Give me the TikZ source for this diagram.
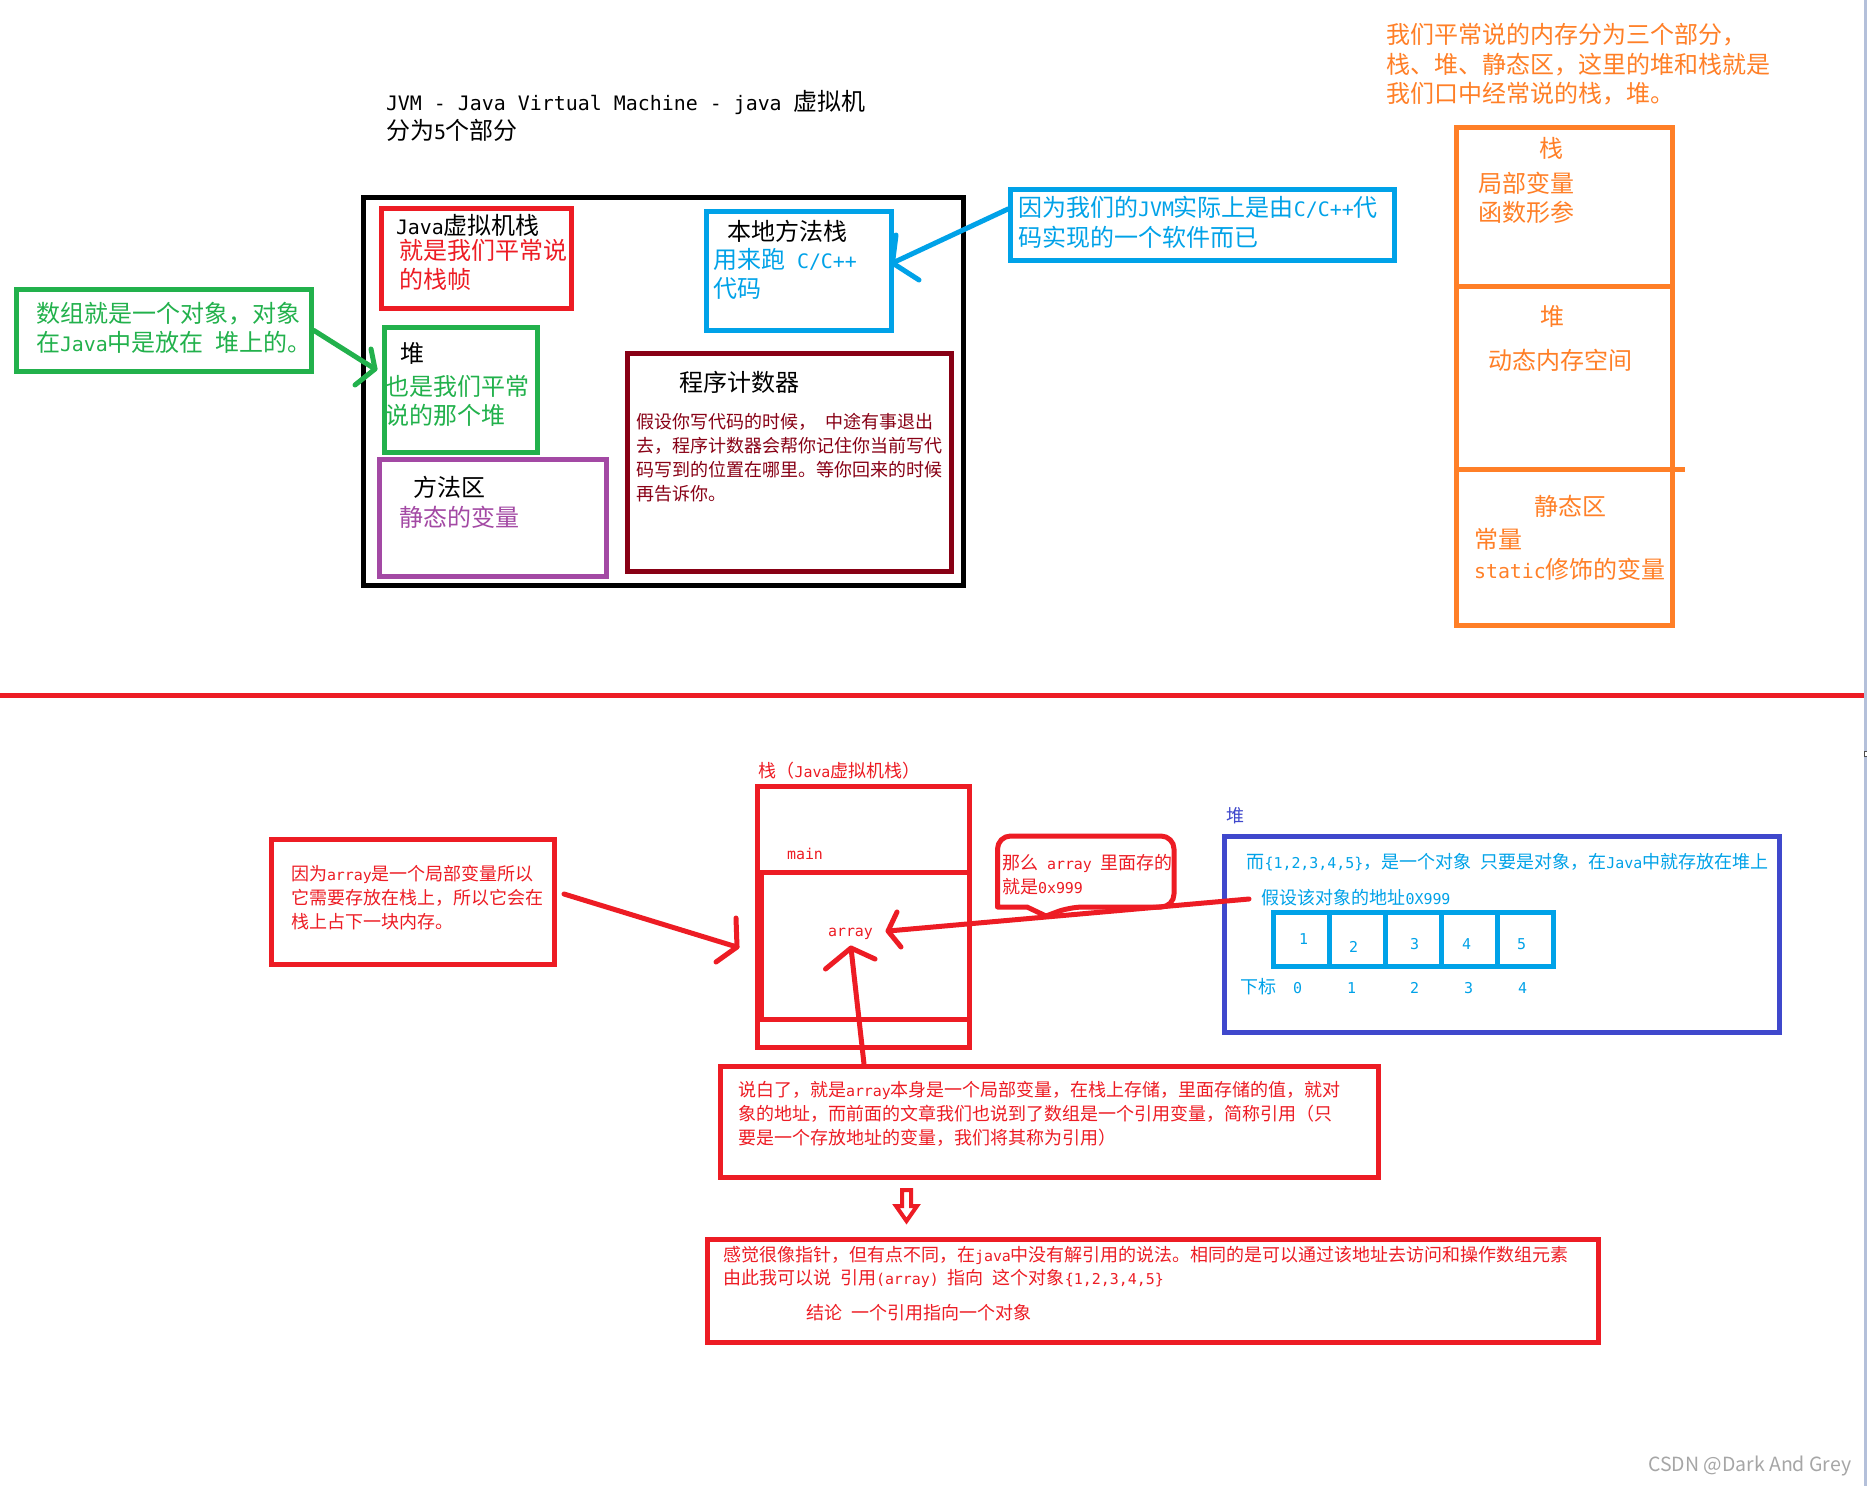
\documentclass[tikz,border=0pt]{standalone}
\usepackage{fontspec}
\setmainfont{Noto Sans CJK SC}
\newfontfamily\latfont{DejaVu Sans Mono}[Scale=0.83]
\newcommand\La[1]{{\latfont #1}}
\newcommand\Gap{\hspace{0.5em}}
\definecolor{cred}{HTML}{ED1C24}
\definecolor{cgreen}{HTML}{22B14C}
\definecolor{cblue}{HTML}{00A2E8}
\definecolor{cpurple}{HTML}{A349A4}
\definecolor{cdark}{HTML}{880015}
\definecolor{corange}{HTML}{FF7F27}
\definecolor{cindigo}{HTML}{3F48CC}
\definecolor{cstrip}{HTML}{B4C0DA}
\tikzset{
  boxnode/.style={draw=#1,line width=5pt,inner sep=0pt,fill=none},
  txtnode/.style={text=#1,inner sep=0pt,outer sep=0pt,anchor=north west,align=left},
  stroke/.style={draw=#1,line width=5pt,line cap=round,line join=round},
}
% name x1 y1 x2 y2 colour
\newcommand\boxn[6]{%
  \pgfmathsetmacro\bw{#4-#2}\pgfmathsetmacro\bh{#5-#3}%
  \pgfmathsetmacro\bx{(#2+#4)/2}\pgfmathsetmacro\by{(#3+#5)/2}%
  \node[boxnode=#6,minimum width=\bw pt,minimum height=\bh pt] (#1) at (\bx,\by) {};}
% name x ycentre-of-first-line size leading colour text
\newcommand\lbl[7]{%
  \pgfmathsetmacro\ty{#3-0.7*#5+0.38*#4}%
  \node[txtnode=#6,font=\fontsize{#4}{#5}\selectfont] (#1) at (#2,\ty) {\strut #7};}
\begin{document}
\begin{tikzpicture}[x=1pt,y=-1pt]
\useasboundingbox (0,0) rectangle (1867,1486);
\fill[white] (0,0) rectangle (1867,1486);
\fill[cstrip] (1864,0) rectangle (1867,1486);
\draw[black!70,fill=white,line width=1pt] (1864.5,751.5) rectangle (1868,756);
% ---------- upper part
\lbl{title}{386}{101}{24}{29}{black}{\La{JVM - Java Virtual Machine - java }虚拟机\\分为\La{5}个部分}
\boxn{jvm}{363.5}{197.5}{963}{585}{black}
\boxn{jstack}{381.5}{208.5}{571.5}{308.5}{cred}
\boxn{native}{706.5}{211.5}{891.5}{330.5}{cblue}
\boxn{heap}{384.5}{327.5}{537.5}{452.5}{cgreen}
\boxn{method}{379.5}{459.5}{606.5}{576.5}{cpurple}
\boxn{pc}{627.5}{353.5}{951.5}{571.5}{cdark}
\boxn{gnote}{16.5}{289.5}{311.5}{371.5}{cgreen}
\boxn{bnote}{1010.5}{189.5}{1394.5}{260.5}{cblue}
\lbl{t1}{396}{225.5}{24}{29}{black}{\La{Java}虚拟机栈}
\lbl{t2}{399}{250.5}{24}{29}{cred}{就是我们平常说\\的栈帧}
\lbl{t3}{727}{231.5}{24}{29}{black}{本地方法栈}
\lbl{t4}{713}{259.5}{24}{29}{cblue}{用来跑\Gap\La{C/C++}\\代码}
\lbl{t5}{400}{353}{24}{29}{black}{堆}
\lbl{t6}{385}{386}{24}{29}{cgreen}{也是我们平常\\说的那个堆}
\lbl{t7}{413}{487}{24}{29}{black}{方法区}
\lbl{t8}{399}{517}{24}{29}{cpurple}{静态的变量}
\lbl{t9}{679}{382}{24}{29}{black}{程序计数器}
\lbl{t10}{636}{422}{18}{24}{cdark}{假设你写代码的时候，\Gap 中途有事退出\\去，程序计数器会帮你记住你当前写代\\码写到的位置在哪里。等你回来的时候\\再告诉你。}
\lbl{t11}{36}{313}{24}{29}{cgreen}{数组就是一个对象，对象\\在\La{Java}中是放在\Gap 堆上的。}
\lbl{t12}{1018}{207.5}{24}{29}{cblue}{因为我们的\La{JVM}实际上是由\La{C/C++}代\\码实现的一个软件而已}
% connectors, upper part
\coordinate (gtip) at (375,369);
\draw[stroke=cgreen] (gnote.east) -- (gtip);
\draw[stroke=cgreen] (371,349) -- (gtip) -- (355,385);
\coordinate (btip) at (892.5,263);
\draw[stroke=cblue] ([yshift=16pt]bnote.west) -- (btip);
\draw[stroke=cblue] (896,235) -- (btip) -- (919,280);
% orange stack
\lbl{o0}{1386}{34}{24}{29}{corange}{我们平常说的内存分为三个部分，\\栈、堆、静态区，这里的堆和栈就是\\我们口中经常说的栈，堆。}
\boxn{mem}{1456.5}{127.5}{1672}{625.5}{corange}
\draw[stroke=corange,line cap=butt] (mem.west |- 0,286) -- (mem.east |- 0,286);
\draw[stroke=corange,line cap=butt] (mem.west |- 0,469) -- (1685,469);
\lbl{o1}{1539}{148}{24}{29}{corange}{栈}
\lbl{o2}{1478}{183}{24}{29}{corange}{局部变量\\函数形参}
\lbl{o3}{1540}{316}{24}{29}{corange}{堆}
\lbl{o4}{1488.5}{360}{24}{29}{corange}{动态内存空间}
\lbl{o5}{1534}{506}{24}{29}{corange}{静态区}
\lbl{o6}{1474}{539}{24}{29}{corange}{常量\\\La{static}修饰的变量}
% separator
\draw[cred,line width=5pt] (0,695.3) -- (1864,695.3);
% ---------- lower part
\boxn{why}{271.5}{839.5}{554.5}{964.5}{cred}
\lbl{w1}{291}{874}{18}{24}{cred}{因为\La{array}是一个局部变量所以\\它需要存放在栈上，所以它会在\\栈上占下一块内存。}
\lbl{s0}{758.5}{771}{18}{24}{cred}{栈（\La{Java}虚拟机栈）}
\boxn{stack}{757.5}{786.5}{969.5}{1047.5}{cred}
\draw[stroke=cred,line cap=butt] (stack.west |- 0,872) -- (stack.east |- 0,872);
\draw[stroke=cred,line cap=butt] (stack.west |- 0,1019) -- (stack.east |- 0,1019);
\draw[stroke=cred,line cap=butt] (761,872) -- (761,1019);
\lbl{s1}{787}{853}{18}{24}{cred}{\La{main}}
\lbl{s2}{828}{930}{18}{24}{cred}{\La{array}}
% bubble
\draw[stroke=cred] (1046,916) -- (1027,907) -- (997.5,907) [rounded corners=13pt] -- (997.5,836) -- (1174,836) -- (1174,907) -- (1070,907) [sharp corners] -- cycle;
\lbl{b1}{1002}{863}{18}{24}{cred}{那么\Gap\La{array}\Gap 里面存的\\就是\La{0x999}}
% heap box
\lbl{h0}{1226}{816}{18}{24}{cindigo}{堆}
\boxn{hbox}{1224}{836}{1779.5}{1032.5}{cindigo}
\lbl{h1}{1246.5}{862}{18}{24}{cblue}{而\La{\{1,2,3,4,5\}}，是一个对象\Gap 只要是对象，在\La{Java}中就存放在堆上}
\lbl{h2}{1261.5}{898}{18}{24}{cblue}{假设该对象的地址\La{0X999}}
\boxn{arr}{1273.5}{912.5}{1553.5}{966.5}{cblue}
\foreach \dx in {1329,1385,1441.5,1497}{\draw[cblue,line width=5pt] (\dx,912.5) -- (\dx,966.5);}
\lbl{d1}{1299}{938}{18}{24}{cblue}{\La{1}}
\lbl{d2}{1349}{946}{18}{24}{cblue}{\La{2}}
\lbl{d3}{1410}{943}{18}{24}{cblue}{\La{3}}
\lbl{d4}{1462}{943}{18}{24}{cblue}{\La{4}}
\lbl{d5}{1517}{943}{18}{24}{cblue}{\La{5}}
\lbl{i0}{1240}{986.5}{18}{24}{cblue}{下标}
\lbl{i1}{1293}{986.5}{18}{24}{cblue}{\La{0}}
\lbl{i2}{1347}{986.5}{18}{24}{cblue}{\La{1}}
\lbl{i3}{1410}{986.5}{18}{24}{cblue}{\La{2}}
\lbl{i4}{1464}{986.5}{18}{24}{cblue}{\La{3}}
\lbl{i5}{1518}{986.5}{18}{24}{cblue}{\La{4}}
% explanatory boxes
\boxn{ex1}{720.5}{1066.5}{1378.5}{1177.5}{cred}
\lbl{e1}{738}{1090}{18}{24}{cred}{说白了，就是\La{array}本身是一个局部变量，在栈上存储，里面存储的值，就对\\象的地址，而前面的文章我们也说到了数组是一个引用变量，简称引用（只\\要是一个存放地址的变量，我们将其称为引用）}
\draw[cred,line width=4pt,line join=miter] (902,1190) -- (911,1190) -- (911,1206) -- (917,1206) -- (906.5,1221) -- (896,1206) -- (902,1206) -- cycle;
\boxn{ex2}{707.5}{1239.5}{1598.5}{1342.5}{cred}
\lbl{e2}{723}{1254.5}{18}{23.5}{cred}{感觉很像指针，但有点不同，在\La{java}中没有解引用的说法。相同的是可以通过该地址去访问和操作数组元素\\由此我可以说\Gap 引用\La{(array)}\Gap 指向\Gap 这个对象\La{\{1,2,3,4,5\}}}
\lbl{e3}{806}{1313}{18}{24}{cred}{结论\Gap 一个引用指向一个对象}
% connectors, lower part
\coordinate (wstart) at (564,894);
\coordinate (wtip) at (737,947);
\draw[stroke=cred] (wstart) -- (wtip);
\draw[stroke=cred] (736,918) -- (wtip) -- (716,962);
\coordinate (astart) at (1249,899);
\coordinate (atip) at (888,931);
\draw[stroke=cred] (astart) -- (atip);
\draw[stroke=cred] (897,912) -- (atip) -- (901,947);
\coordinate (ustart) at (864,1064);
\coordinate (utip) at (851,948);
\draw[stroke=cred] (ustart) -- (utip);
\draw[stroke=cred] (825.5,969) -- (utip) -- (875,959);
% watermark
\node[inner sep=0pt,anchor=west,text=black!35,font=\fontsize{19.5}{24}\selectfont] (wm) at (1648,1466) {CSDN @Dark And Grey};
\end{tikzpicture}
\end{document}
